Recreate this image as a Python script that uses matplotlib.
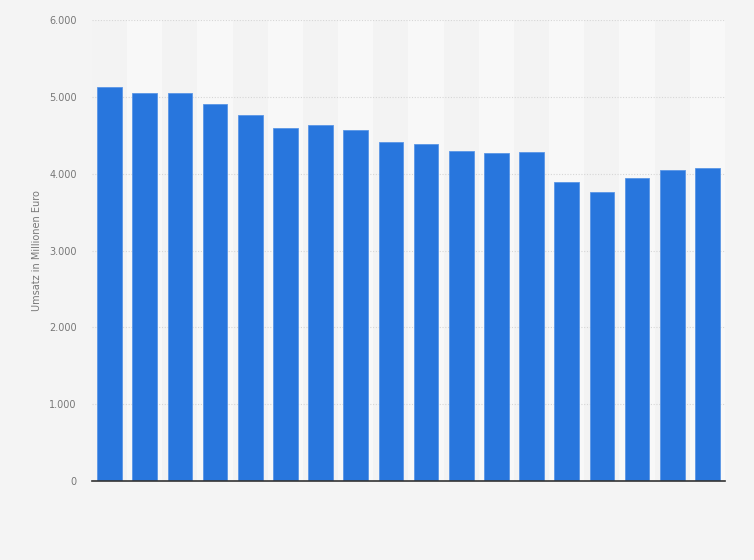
import matplotlib.pyplot as plt
from matplotlib.ticker import FuncFormatter

# x labels are not shown in the chart, so just numbered categories
categories = [str(i) for i in range(1, 19)]
umsatz = [5128, 5050, 5050, 4907, 4764, 4595, 4634, 4569, 4412,
          4386, 4295, 4269, 4282, 3892, 3762, 3944, 4048, 4074]
y_ticks = [0, 1000, 2000, 3000, 4000, 5000, 6000]

fig = plt.figure(figsize=(7.54, 5.60), dpi=100)
fig.patch.set_facecolor('#f4f4f4')
ax = fig.add_axes([0.122, 0.141, 0.8395, 0.823])
ax.set_facecolor('#f3f3f3')

x = list(range(len(categories)))

# alternating column bands
for i in x:
    if i % 2 == 1:
        ax.axvspan(i - 0.5, i + 0.5, color='#f8f8f8', zorder=0, lw=0)

ax.bar(x, umsatz, width=0.7, color='#2876dd', edgecolor='#5a96e6',
       linewidth=0.6, zorder=3)

ax.set_xlim(-0.5, len(categories) - 0.5)
ax.set_ylim(0, 6000)
ax.set_yticks(y_ticks)
ax.yaxis.set_major_formatter(FuncFormatter(lambda v, p: f'{int(v):,}'.replace(',', '.')))
ax.set_xticks(x)
ax.set_xticklabels([])
ax.tick_params(axis='x', length=0)
ax.tick_params(axis='y', length=0, labelsize=7, labelcolor='#777777', pad=11)

ax.grid(axis='y', color='#d6d6d6', linestyle=(0, (1, 1.5)), linewidth=0.8, zorder=1)
ax.set_axisbelow(True)

for s in ['top', 'right', 'left']:
    ax.spines[s].set_visible(False)
ax.spines['bottom'].set_color('#333333')
ax.spines['bottom'].set_linewidth(1.2)
ax.spines['bottom'].set_zorder(4)

ax.set_ylabel('Umsatz in Millionen Euro', fontsize=7, color='#777777', labelpad=5)

fig.savefig('out.png', dpi=100, facecolor=fig.get_facecolor())
